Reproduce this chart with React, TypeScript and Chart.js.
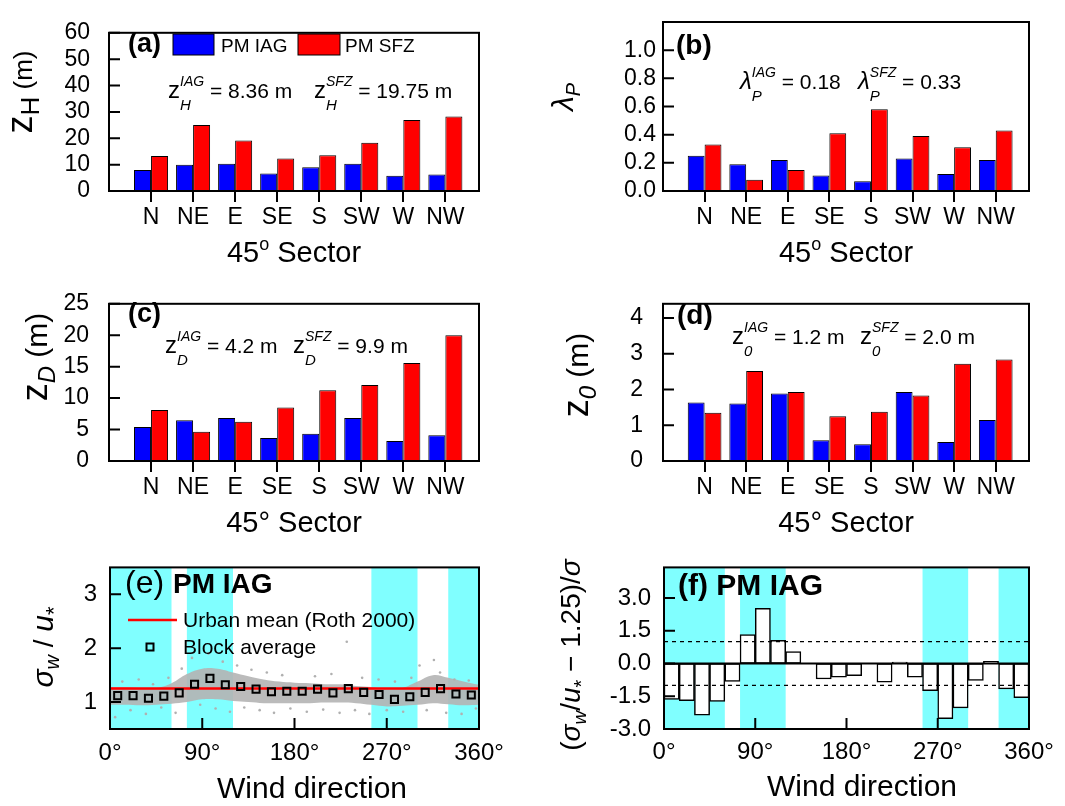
import React, { useEffect, useRef } from 'react';
import { Chart, registerables } from 'chart.js';
Chart.register(...registerables);

const FONT = '"Liberation Sans", Arial, Helvetica, sans-serif';
Chart.defaults.font.family = FONT;
Chart.defaults.color = '#000';

// ---------------- data ----------------
const sectors = ['N', 'NE', 'E', 'SE', 'S', 'SW', 'W', 'NW'];
const sectorPos = [1, 2, 3, 4, 5, 6, 7, 8];

const zH_IAG = [8.0, 10.0, 10.3, 6.6, 9.0, 10.3, 5.8, 6.3];
const zH_SFZ = [13.3, 25.0, 19.2, 12.3, 13.6, 18.3, 26.9, 28.3];
const lambdaP_IAG = [0.25, 0.19, 0.22, 0.11, 0.07, 0.23, 0.12, 0.22];
const lambdaP_SFZ = [0.33, 0.08, 0.15, 0.41, 0.58, 0.39, 0.31, 0.43];
const zD_IAG = [5.4, 6.5, 6.85, 3.65, 4.35, 6.85, 3.2, 4.1];
const zD_SFZ = [8.1, 4.65, 6.25, 8.5, 11.25, 12.1, 15.6, 20.0];
const z0_IAG = [1.64, 1.61, 1.89, 0.58, 0.47, 1.93, 0.53, 1.15];
const z0_SFZ = [1.35, 2.52, 1.93, 1.25, 1.38, 1.83, 2.72, 2.84];

const zH_ticks = [0, 10, 20, 30, 40, 50, 60];
const lambda_ticks = [0, 0.2, 0.4, 0.6, 0.8, 1.0];
const zD_ticks = [0, 5, 10, 15, 20, 25];
const z0_ticks = [0, 1, 2, 3, 4];

const binCenters = [7.5, 22.5, 37.5, 52.5, 67.5, 82.5, 97.5, 112.5, 127.5, 142.5, 157.5, 172.5,
  187.5, 202.5, 217.5, 232.5, 247.5, 262.5, 277.5, 292.5, 307.5, 322.5, 337.5, 352.5];
const blockAverage = [1.12, 1.12, 1.07, 1.11, 1.17, 1.33, 1.44, 1.32, 1.29, 1.24, 1.19, 1.20,
  1.20, 1.24, 1.17, 1.25, 1.18, 1.14, 1.05, 1.10, 1.18, 1.25, 1.15, 1.13];
const normDeviation = [-1.65, -1.70, -2.37, -1.74, -0.82, 1.32, 2.53, 1.06, 0.54, 0.0, -0.71, -0.63,
  -0.56, 0.0, -0.85, 0.06, -0.63, -1.24, -2.53, -2.03, -0.78, 0.10, -1.16, -1.56];

const cloudDir = [0, 15, 30, 45, 60, 75, 90, 105, 120, 135, 150, 165, 180, 195, 210, 225, 240, 255, 270, 285, 300, 315, 330, 345, 360];
const cloudUpper = [1.28, 1.28, 1.26, 1.26, 1.35, 1.52, 1.62, 1.62, 1.55, 1.48, 1.42, 1.38, 1.36, 1.35, 1.33, 1.33, 1.30, 1.28, 1.24, 1.26, 1.38, 1.50, 1.45, 1.38, 1.32];
const cloudLower = [0.95, 0.95, 0.94, 0.95, 0.97, 1.00, 1.05, 1.05, 1.02, 1.00, 0.98, 0.98, 0.98, 0.98, 0.99, 0.99, 0.98, 0.95, 0.92, 0.93, 0.95, 0.98, 0.96, 0.94, 0.95];

const scatterDir = [5, 12, 20, 28, 35, 42, 50, 57, 64, 70, 80, 88, 96, 103, 110, 117, 124, 131, 138, 146, 153, 160, 168, 176,
  184, 192, 200, 208, 216, 224, 231, 239, 246, 253, 262, 270, 278, 286, 294, 302, 309, 316, 322, 328, 336, 343, 350, 357];
const scatterVal = [0.72, 1.38, 0.85, 1.42, 0.78, 1.33, 0.9, 1.45, 0.8, 1.62, 1.82, 0.95, 1.9, 0.88, 1.75, 0.82, 1.68, 0.9, 1.6, 0.85, 1.55, 0.8, 1.5, 0.88,
  1.84, 0.82, 1.48, 0.86, 1.52, 0.8, 2.12, 0.85, 1.45, 0.78, 1.42, 0.85, 1.38, 0.82, 1.45, 1.68, 0.85, 1.78, 1.55, 0.8, 1.42, 0.78, 1.4, 0.88];

const rothMean = 1.25;
const dirRange = [0, 360];
const dirTicks = [0, 90, 180, 270, 360];
const shadeStart = [0, 75, 255, 330];
const shadeEnd = [60, 120, 300, 360];
const sigmaBand = [1, -1];
const sigma_ticks = [1, 2, 3];
const dev_ticks = [-3, -1.5, 0, 1.5, 3];

// ---------------- helpers ----------------
const CYAN = '#80FFFF';
const BLUE = '#0000FF';
const RED = '#FF0000';

type Run = { t: string; size: number; italic?: boolean; bold?: boolean; dy?: number; adv?: boolean };
const fontOf = (r: Run) => `${r.italic ? 'italic ' : ''}${r.bold ? 'bold ' : ''}${r.size}px ${FONT}`;

function runs(ctx: CanvasRenderingContext2D, x: number, y: number, rs: Run[], align: 'left' | 'center' = 'left') {
  ctx.save();
  ctx.textBaseline = 'alphabetic';
  ctx.textAlign = 'left';
  ctx.fillStyle = '#000';
  const ws = rs.map((r) => { ctx.font = fontOf(r); return ctx.measureText(r.t).width; });
  let total = 0;
  rs.forEach((r, i) => { if (r.adv !== false) total += ws[i]; });
  let cx = align === 'center' ? x - total / 2 : x;
  rs.forEach((r, i) => {
    ctx.font = fontOf(r);
    ctx.fillText(r.t, cx, y + (r.dy || 0));
    if (r.adv !== false) cx += ws[i];
  });
  ctx.restore();
}

function rotRuns(ctx: CanvasRenderingContext2D, x: number, y: number, rs: Run[]) {
  ctx.save();
  ctx.translate(x, y);
  ctx.rotate(-Math.PI / 2);
  runs(ctx, 0, 0, rs, 'center');
  ctx.restore();
}

function frame(chart: any, yT: number[], xT: number[]) {
  const { ctx, chartArea: a, scales } = chart;
  const x = scales.x, y = scales.y;
  ctx.save();
  ctx.strokeStyle = '#000';
  ctx.lineWidth = 2;
  ctx.beginPath();
  yT.forEach((v) => { const p = y.getPixelForValue(v); ctx.moveTo(a.left, p); ctx.lineTo(a.left + 11, p); });
  xT.forEach((v) => { const p = x.getPixelForValue(v); ctx.moveTo(p, a.bottom); ctx.lineTo(p, a.bottom - 11); });
  ctx.stroke();
  ctx.strokeRect(a.left, a.top, a.right - a.left, a.bottom - a.top);
  ctx.restore();
}

function bands(chart: any) {
  const { ctx, chartArea: a, scales } = chart;
  const x = scales.x;
  ctx.save();
  ctx.fillStyle = CYAN;
  shadeStart.forEach((s, i) => {
    const x0 = x.getPixelForValue(s), x1 = x.getPixelForValue(shadeEnd[i]);
    ctx.fillRect(x0, a.top, x1 - x0, a.bottom - a.top);
  });
  ctx.restore();
}

type Area = { l: number; t: number; r: number; b: number };

function barPanel(o: {
  iag: number[]; sfz: number[]; yMax: number; yTicks: number[]; yDec: number; yPad: number;
  area: Area; draw: (ctx: CanvasRenderingContext2D) => void;
}) {
  return (w: number, h: number): any => ({
    type: 'bar',
    data: {
      datasets: [
        { label: 'PM IAG', data: sectorPos.map((p, i) => ({ x: p, y: o.iag[i] })), backgroundColor: BLUE, borderColor: '#000', borderWidth: 1, borderSkipped: false, categoryPercentage: 0.81, barPercentage: 1 },
        { label: 'PM SFZ', data: sectorPos.map((p, i) => ({ x: p, y: o.sfz[i] })), backgroundColor: RED, borderColor: '#000', borderWidth: 1, borderSkipped: false, categoryPercentage: 0.81, barPercentage: 1 },
      ],
    },
    options: {
      animation: false, responsive: false, maintainAspectRatio: false,
      layout: { padding: { left: 0, top: o.area.t, right: w - o.area.r, bottom: 0 } },
      plugins: { legend: { display: false }, tooltip: { enabled: false }, title: { display: false } },
      scales: {
        x: {
          type: 'linear', min: 0, max: 8.8, offset: false,
          afterBuildTicks: (s: any) => { s.ticks = sectorPos.map((v) => ({ value: v })); },
          afterFit: (s: any) => { s.height = h - o.area.b; },
          ticks: { callback: (v: any) => sectors[sectorPos.indexOf(v)], font: { size: 23 }, color: '#000', padding: 2, maxRotation: 0, minRotation: 0, autoSkip: false },
          grid: { display: true, drawOnChartArea: false, drawTicks: true, tickLength: 11, color: '#000', lineWidth: 2, offset: false },
          border: { display: false },
        },
        y: {
          type: 'linear', min: 0, max: o.yMax,
          afterBuildTicks: (s: any) => { s.ticks = o.yTicks.map((v) => ({ value: v })); },
          afterFit: (s: any) => { s.width = o.area.l; },
          ticks: { callback: (v: any) => Number(v).toFixed(o.yDec), font: { size: 23 }, color: '#000', padding: o.yPad, autoSkip: false },
          grid: { display: false, drawTicks: false },
          border: { display: false },
        },
      },
    },
    plugins: [{
      id: 'deco',
      afterDraw(chart: any) {
        frame(chart, o.yTicks, []);
        o.draw(chart.ctx);
      },
    }],
  });
}

function legendBoxes(ctx: CanvasRenderingContext2D) {
  ctx.save();
  ctx.lineWidth = 1;
  ctx.strokeStyle = '#000';
  ctx.fillStyle = BLUE; ctx.fillRect(173, 34, 41, 21); ctx.strokeRect(173, 34, 41, 21);
  ctx.fillStyle = RED; ctx.fillRect(298, 34, 42, 21); ctx.strokeRect(298, 34, 42, 21);
  ctx.restore();
  runs(ctx, 221, 52, [{ t: 'PM IAG', size: 19 }]);
  runs(ctx, 345, 52, [{ t: 'PM SFZ', size: 19 }]);
}

const sectorTitleO: Run[] = [{ t: '45', size: 29 }, { t: 'o', size: 18, dy: -12 }, { t: ' Sector', size: 29 }];
const sectorTitleDeg: Run[] = [{ t: '45° Sector', size: 29 }];

const buildA = barPanel({
  iag: zH_IAG, sfz: zH_SFZ, yMax: 60, yTicks: zH_ticks, yDec: 0, yPad: 19,
  area: { l: 109, t: 22, r: 479, b: 191 },
  draw: (ctx) => {
    runs(ctx, 128, 52, [{ t: '(a)', size: 27, bold: true }]);
    legendBoxes(ctx);
    runs(ctx, 168, 98, [{ t: 'z', size: 24 }, { t: 'H', size: 15, italic: true, dy: 12, adv: false }, { t: 'IAG', size: 14, italic: true, dy: -12 }, { t: ' = 8.36 m', size: 21 }]);
    runs(ctx, 314, 98, [{ t: 'z', size: 24 }, { t: 'H', size: 15, italic: true, dy: 12, adv: false }, { t: 'SFZ', size: 14, italic: true, dy: -12 }, { t: ' = 19.75 m', size: 21 }]);
    rotRuns(ctx, 32, 92, [{ t: 'z', size: 36 }, { t: 'H', size: 26, dy: 7 }, { t: ' (m)', size: 26 }]);
    runs(ctx, 294, 262, sectorTitleO, 'center');
  },
});

const buildB = barPanel({
  iag: lambdaP_IAG, sfz: lambdaP_SFZ, yMax: 1.2, yTicks: lambda_ticks, yDec: 1, yPad: 7,
  area: { l: 133, t: 22, r: 499, b: 191 },
  draw: (ctx) => {
    runs(ctx, 146, 54, [{ t: '(b)', size: 28, bold: true }]);
    runs(ctx, 210, 89, [{ t: 'λ', size: 24, italic: true }, { t: 'P', size: 15, italic: true, dy: 12, adv: false }, { t: 'IAG', size: 14, italic: true, dy: -12 }, { t: ' = 0.18', size: 21 }]);
    runs(ctx, 328, 89, [{ t: 'λ', size: 24, italic: true }, { t: 'P', size: 15, italic: true, dy: 12, adv: false }, { t: 'SFZ', size: 14, italic: true, dy: -12 }, { t: ' = 0.33', size: 21 }]);
    rotRuns(ctx, 43, 97, [{ t: 'λ', size: 30, italic: true }, { t: 'P', size: 20, italic: true, dy: 7 }]);
    runs(ctx, 316, 262, sectorTitleO, 'center');
  },
});

const buildC = barPanel({
  iag: zD_IAG, sfz: zD_SFZ, yMax: 25, yTicks: zD_ticks, yDec: 0, yPad: 20,
  area: { l: 109, t: 22, r: 479, b: 191 },
  draw: (ctx) => {
    runs(ctx, 128, 52, [{ t: '(c)', size: 27, bold: true }]);
    runs(ctx, 165, 83, [{ t: 'z', size: 24 }, { t: 'D', size: 15, italic: true, dy: 12, adv: false }, { t: 'IAG', size: 14, italic: true, dy: -12 }, { t: ' = 4.2 m', size: 21 }]);
    runs(ctx, 293, 83, [{ t: 'z', size: 24 }, { t: 'D', size: 15, italic: true, dy: 12, adv: false }, { t: 'SFZ', size: 14, italic: true, dy: -12 }, { t: ' = 9.9 m', size: 21 }]);
    rotRuns(ctx, 47, 87, [{ t: 'z', size: 36 }, { t: 'D', size: 24, italic: true, dy: 8 }, { t: ' (m)', size: 30 }]);
    runs(ctx, 294, 262, sectorTitleDeg, 'center');
  },
});

const buildD = barPanel({
  iag: z0_IAG, sfz: z0_SFZ, yMax: 4.4, yTicks: z0_ticks, yDec: 0, yPad: 20,
  area: { l: 133, t: 22, r: 499, b: 191 },
  draw: (ctx) => {
    runs(ctx, 147, 54, [{ t: '(d)', size: 28, bold: true }]);
    runs(ctx, 202, 74, [{ t: 'z', size: 24 }, { t: '0', size: 15, italic: true, dy: 12, adv: false }, { t: 'IAG', size: 14, italic: true, dy: -12 }, { t: ' = 1.2 m', size: 21 }]);
    runs(ctx, 330, 74, [{ t: 'z', size: 24 }, { t: '0', size: 15, italic: true, dy: 12, adv: false }, { t: 'SFZ', size: 14, italic: true, dy: -12 }, { t: ' = 2.0 m', size: 21 }]);
    rotRuns(ctx, 58, 105, [{ t: 'z', size: 36 }, { t: '0', size: 24, italic: true, dy: 8 }, { t: ' (m)', size: 30 }]);
    runs(ctx, 316, 262, sectorTitleDeg, 'center');
  },
});

function dirAxis(area: Area, h: number, pad: number) {
  return {
    type: 'linear', min: dirRange[0], max: dirRange[1], offset: false,
    afterBuildTicks: (s: any) => { s.ticks = dirTicks.map((v) => ({ value: v })); },
    afterFit: (s: any) => { s.height = h - area.b; },
    ticks: { callback: (v: any) => `${v}°`, font: { size: 24 }, color: '#000', padding: pad, maxRotation: 0, minRotation: 0, autoSkip: false },
    grid: { display: false, drawTicks: false, offset: false },
    border: { display: false },
  };
}

const areaE: Area = { l: 110, t: 22, r: 479, b: 189 };
const buildE = (w: number, h: number): any => ({
  type: 'line',
  data: {
    datasets: [
      { label: 'Block average', data: binCenters.map((d, i) => ({ x: d, y: blockAverage[i] })), showLine: false, pointStyle: 'rect', pointRadius: 5, borderColor: '#000', borderWidth: 2, backgroundColor: 'rgba(0,0,0,0)', order: 0 },
      { label: 'Urban mean (Roth 2000)', data: dirRange.map((d) => ({ x: d, y: rothMean })), borderColor: RED, borderWidth: 2.5, pointRadius: 0, order: 1 },
      { label: 'scatter', data: scatterDir.map((d, i) => ({ x: d, y: scatterVal[i] })), showLine: false, pointRadius: 1.3, pointBorderWidth: 0, backgroundColor: '#B0B0B0', borderColor: '#B0B0B0', order: 2 },
      { label: 'cloudLower', data: cloudDir.map((d, i) => ({ x: d, y: cloudLower[i] })), borderWidth: 0, borderColor: 'rgba(0,0,0,0)', pointRadius: 0, tension: 0.4, fill: false, order: 3 },
      { label: 'cloudUpper', data: cloudDir.map((d, i) => ({ x: d, y: cloudUpper[i] })), borderWidth: 0, borderColor: 'rgba(0,0,0,0)', pointRadius: 0, tension: 0.4, fill: 3, backgroundColor: 'rgba(180,180,180,0.9)', order: 4 },
    ],
  },
  options: {
    animation: false, responsive: false, maintainAspectRatio: false,
    layout: { padding: { left: 0, top: areaE.t, right: w - areaE.r, bottom: 0 } },
    plugins: { legend: { display: false }, tooltip: { enabled: false }, title: { display: false }, filler: { propagate: false } },
    scales: {
      x: dirAxis(areaE, h, 10),
      y: {
        type: 'linear', min: 0.5, max: 3.5,
        afterBuildTicks: (s: any) => { s.ticks = sigma_ticks.map((v) => ({ value: v })); },
        afterFit: (s: any) => { s.width = areaE.l; },
        ticks: { callback: (v: any) => String(v), font: { size: 24 }, color: '#000', padding: 13, autoSkip: false },
        grid: { display: false, drawTicks: false },
        border: { display: false },
      },
    },
  },
  plugins: [{
    id: 'decoE',
    beforeDatasetsDraw(chart: any) { bands(chart); },
    afterDraw(chart: any) {
      const ctx = chart.ctx;
      frame(chart, sigma_ticks, [90, 180, 270]);
      runs(ctx, 125, 53, [{ t: '(e) ', size: 32 }, { t: 'PM IAG', size: 28, bold: true }]);
      ctx.save();
      ctx.strokeStyle = RED; ctx.lineWidth = 2.5;
      ctx.beginPath(); ctx.moveTo(128, 80); ctx.lineTo(177, 80); ctx.stroke();
      ctx.strokeStyle = '#000'; ctx.lineWidth = 2;
      ctx.strokeRect(146.5, 103.5, 7, 7);
      ctx.restore();
      runs(ctx, 183, 87, [{ t: 'Urban mean (Roth 2000)', size: 21 }]);
      runs(ctx, 183, 114, [{ t: 'Block average', size: 21 }]);
      rotRuns(ctx, 53, 107, [{ t: 'σ', size: 30, italic: true }, { t: 'w', size: 20, italic: true, dy: 6 }, { t: ' / ', size: 28 }, { t: 'u', size: 30, italic: true }, { t: '*', size: 22, dy: 8 }]);
      runs(ctx, 312, 258, [{ t: 'Wind direction', size: 30 }], 'center');
    },
  }],
});

const areaF: Area = { l: 134, t: 22, r: 499, b: 189 };
const buildF = (w: number, h: number): any => ({
  type: 'bar',
  data: {
    datasets: [
      { type: 'line', label: '+1', data: dirRange.map((d) => ({ x: d, y: sigmaBand[0] })), borderColor: '#000', borderWidth: 1.2, borderDash: [4, 4], pointRadius: 0, order: 0 },
      { type: 'line', label: '-1', data: dirRange.map((d) => ({ x: d, y: sigmaBand[1] })), borderColor: '#000', borderWidth: 1.2, borderDash: [4, 4], pointRadius: 0, order: 0 },
      { type: 'bar', label: 'PM IAG', data: binCenters.map((d, i) => ({ x: d, y: normDeviation[i] })), backgroundColor: '#FFFFFF', borderColor: '#000', borderWidth: 1.5, borderSkipped: false, barPercentage: 1, categoryPercentage: 1, order: 1 },
    ],
  },
  options: {
    animation: false, responsive: false, maintainAspectRatio: false,
    layout: { padding: { left: 0, top: areaF.t, right: w - areaF.r, bottom: 0 } },
    plugins: { legend: { display: false }, tooltip: { enabled: false }, title: { display: false } },
    scales: {
      x: dirAxis(areaF, h, 9),
      y: {
        type: 'linear', min: -3, max: 4.4,
        afterBuildTicks: (s: any) => { s.ticks = dev_ticks.map((v) => ({ value: v })); },
        afterFit: (s: any) => { s.width = areaF.l; },
        ticks: { callback: (v: any) => Number(v).toFixed(1), font: { size: 24 }, color: '#000', padding: 13, autoSkip: false },
        grid: { display: false, drawTicks: false },
        border: { display: false },
      },
    },
  },
  plugins: [{
    id: 'decoF',
    beforeDatasetsDraw(chart: any) { bands(chart); },
    afterDatasetsDraw(chart: any) {
      const { ctx, chartArea: a, scales } = chart;
      const p = scales.y.getPixelForValue(0);
      ctx.save(); ctx.strokeStyle = '#000'; ctx.lineWidth = 2;
      ctx.beginPath(); ctx.moveTo(a.left, p); ctx.lineTo(a.right, p); ctx.stroke(); ctx.restore();
    },
    afterDraw(chart: any) {
      const ctx = chart.ctx;
      frame(chart, dev_ticks, [90, 180, 270]);
      runs(ctx, 148, 55, [{ t: '(f) PM IAG', size: 30, bold: true }]);
      rotRuns(ctx, 50, 115, [{ t: '(', size: 28 }, { t: 'σ', size: 28, italic: true }, { t: 'w', size: 19, italic: true, dy: 6 }, { t: '/', size: 28 }, { t: 'u', size: 28, italic: true }, { t: '*', size: 20, dy: 8 }, { t: ' − 1.25)/', size: 28 }, { t: 'σ', size: 28, italic: true }]);
      runs(ctx, 332, 256, [{ t: 'Wind direction', size: 30 }], 'center');
    },
  }],
});

function Panel({ left, top, width, height, build }: { left: number; top: number; width: number; height: number; build: (w: number, h: number) => any }) {
  const ref = useRef<HTMLCanvasElement>(null);
  useEffect(() => {
    const chart = new Chart(ref.current as HTMLCanvasElement, build(width, height));
    return () => chart.destroy();
  }, []);
  return <canvas ref={ref} width={width} height={height} style={{ position: 'absolute', left, top, width, height, display: 'block' }} />;
}

export default function App() {
  return (
    <div style={{ position: 'absolute', left: 0, top: 0, width: 1065, height: 806, background: '#fff', overflow: 'hidden' }}>
      <Panel left={0} top={0} width={530} height={270} build={buildA} />
      <Panel left={530} top={0} width={535} height={270} build={buildB} />
      <Panel left={0} top={270} width={530} height={270} build={buildC} />
      <Panel left={530} top={270} width={535} height={270} build={buildD} />
      <Panel left={0} top={540} width={530} height={266} build={buildE} />
      <Panel left={530} top={540} width={535} height={266} build={buildF} />
    </div>
  );
}
